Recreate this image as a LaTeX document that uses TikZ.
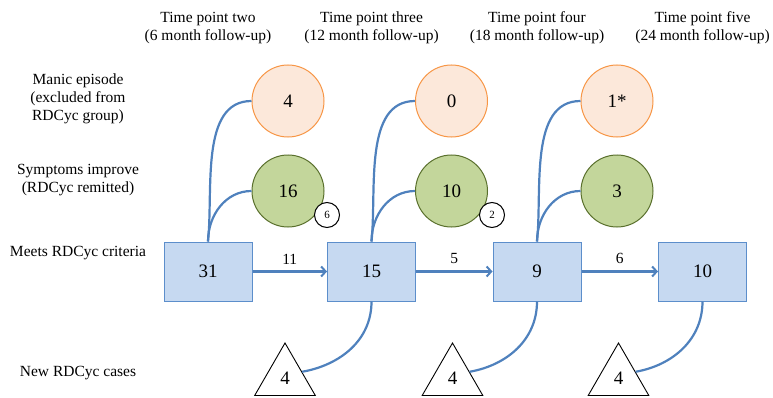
\documentclass[tikz,border=0pt]{standalone}
\usepackage{fontspec}
\setmainfont{Liberation Serif}
\usetikzlibrary{shapes.geometric,arrows.meta}
\definecolor{boxfill}{RGB}{198,217,241}
\definecolor{boxdraw}{RGB}{92,142,203}
\definecolor{linkblue}{RGB}{79,129,189}
\definecolor{orfill}{RGB}{252,232,218}
\definecolor{ordraw}{RGB}{247,150,70}
\definecolor{grfill}{RGB}{195,214,155}
\definecolor{grdraw}{RGB}{90,112,45}
\tikzset{
  x=1pt, y=1pt,
  stage/.style={draw=boxdraw, fill=boxfill, line width=1pt, minimum width=88pt, minimum height=59pt, inner sep=0pt, font=\fontsize{19}{22}\selectfont},
  manic/.style={circle, draw=ordraw, fill=orfill, line width=1pt, minimum size=72pt, inner sep=0pt, font=\fontsize{19}{22}\selectfont},
  remit/.style={circle, draw=grdraw, fill=grfill, line width=1pt, minimum size=72pt, inner sep=0pt, font=\fontsize{19}{22}\selectfont},
  badge/.style={circle, draw=black, fill=white, line width=1pt, minimum size=25pt, inner sep=0pt, font=\fontsize{11}{13}\selectfont},
  newcase/.style={regular polygon, regular polygon sides=3, draw=black, fill=white, line width=0.9pt, minimum size=70pt, inner sep=0pt, font=\fontsize{19}{22}\selectfont},
  header/.style={align=center, font=\fontsize{15.5}{18}\selectfont},
  rowlabel/.style={align=center, font=\fontsize{15.5}{18}\selectfont},
  link/.style={draw=linkblue, line width=2.2pt},
  uplink/.style={link, out=84, in=180, looseness=0.9},
  flow/.style={draw=linkblue, line width=2.2pt, -{Straight Barb[length=4.5pt,width=10pt,line width=2pt]}},
  flowlabel/.style={font=\fontsize{15.5}{18}\selectfont, above=3pt}
}
\begin{document}
\begin{tikzpicture}
\useasboundingbox (0,0) rectangle (773,397);
% headers
\node[header] (h2) at (208,369) {Time point two\\(6 month follow-up)};
\node[header] (h3) at (371.5,369) {Time point three\\(12 month follow-up)};
\node[header] (h4) at (537,369) {Time point four\\(18 month follow-up)};
\node[header] (h5) at (702.5,369) {Time point five\\(24 month follow-up)};
% row labels
\node[rowlabel] (l1) at (78,298) {Manic episode\\(excluded from\\RDCyc group)};
\node[rowlabel] (l2) at (78,217) {Symptoms improve\\(RDCyc remitted)};
\node[rowlabel] (l3) at (78,144) {Meets RDCyc criteria};
\node[rowlabel] (l4) at (78,24) {New RDCyc cases};
% stage boxes
\node[stage] (b1) at (208,125.5) {31};
\node[stage] (b2) at (371.5,125.5) {15};
\node[stage] (b3) at (537,125.5) {9};
\node[stage] (b4) at (702.5,125.5) {10};
% manic circles
\node[manic] (o1) at (288,296) {4};
\node[manic] (o2) at (451.5,296) {0};
\node[manic] (o3) at (617,296) {1*};
% remitted circles
\node[remit] (g1) at (288,206) {16};
\node[remit] (g2) at (451.5,206) {10};
\node[remit] (g3) at (617,206) {3};
% badges
\node[badge] (s1) at (327,182) {6};
\node[badge] (s2) at (492,182) {2};
% new cases
\node[newcase] (t1) at (285,19) {\raisebox{-7pt}{4}};
\node[newcase] (t2) at (452.5,19) {\raisebox{-7pt}{4}};
\node[newcase] (t3) at (618.5,19) {\raisebox{-7pt}{4}};
% links up
\draw[link] (b1.north) to[uplink] (o1.west);
\draw[link] (b1.north) to[out=90,in=180] (g1.west);
\draw[link] (b2.north) to[uplink] (o2.west);
\draw[link] (b2.north) to[out=90,in=180] (g2.west);
\draw[link] (b3.north) to[uplink] (o3.west);
\draw[link] (b3.north) to[out=90,in=180] (g3.west);
% links down
\draw[link] (b2.south) to[out=-90,in=10] (t1.20);
\draw[link] (b3.south) to[out=-90,in=10] (t2.20);
\draw[link] (b4.south) to[out=-90,in=10] (t3.20);
% flows
\draw[flow] (b1.east) -- node[flowlabel] (f1) {11} (b2.west);
\draw[flow] (b2.east) -- node[flowlabel] (f2) {5} (b3.west);
\draw[flow] (b3.east) -- node[flowlabel] (f3) {6} (b4.west);
\end{tikzpicture}
\end{document}
